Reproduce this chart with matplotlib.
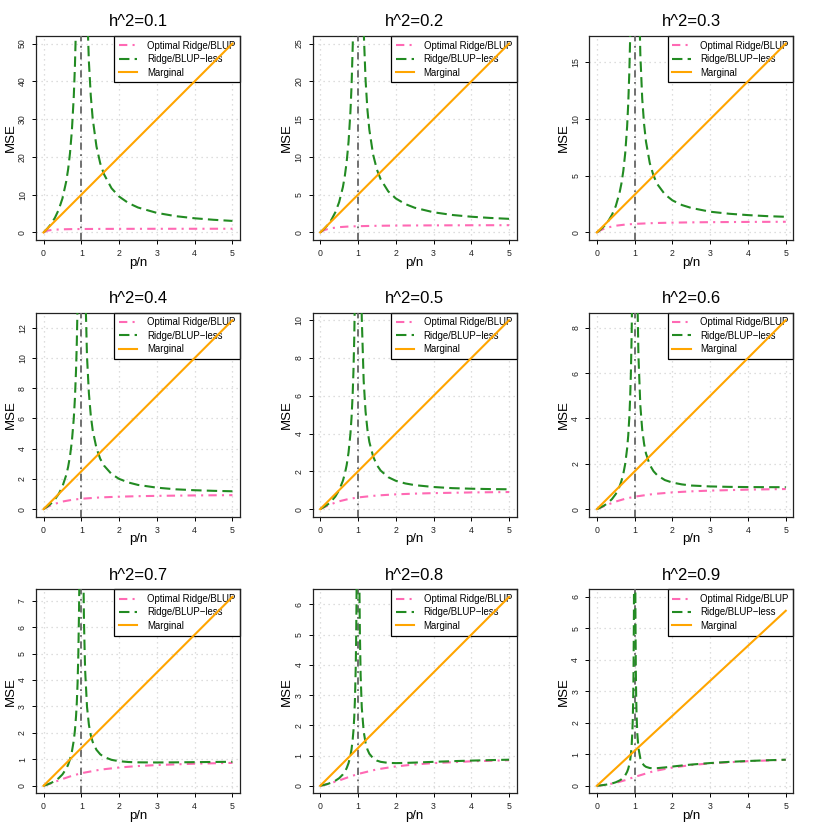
import matplotlib
matplotlib.use("Agg")
import matplotlib.pyplot as plt

plt.rcParams['font.family'] = ['Liberation Sans', 'DejaVu Sans']

# heritability per panel
h2_values = [0.1, 0.2, 0.3, 0.4, 0.5, 0.6, 0.7, 0.8, 0.9]
ymax = [50, 25, 16.67, 12.5, 10, 8.33, 7.14, 6.25, 6.0]
ystep = [10, 5, 5, 2, 2, 2, 1, 1, 1]

# marginal: straight line from (0,0) to (5, end)
x_marg = [0, 5]
marginal_end = [50, 25, 16.67, 12.5, 10, 8.33, 7.14, 6.25, 5.56]

# optimal ridge/BLUP
x_opt = [0, 0.1, 0.25, 0.5, 0.75, 1, 1.5, 2, 2.5, 3, 4, 5]
ridge_opt = [
    [0, 0.487, 0.708, 0.831, 0.881, 0.908, 0.937, 0.952, 0.961, 0.968, 0.976, 0.980],
    [0, 0.301, 0.531, 0.702, 0.782, 0.828, 0.880, 0.908, 0.925, 0.937, 0.952, 0.961],
    [0, 0.202, 0.407, 0.594, 0.694, 0.755, 0.826, 0.865, 0.890, 0.907, 0.929, 0.942],
    [0, 0.141, 0.312, 0.500, 0.613, 0.686, 0.773, 0.823, 0.855, 0.877, 0.906, 0.924],
    [0, 0.099, 0.236, 0.414, 0.535, 0.618, 0.721, 0.781, 0.820, 0.847, 0.883, 0.905],
    [0, 0.068, 0.174, 0.333, 0.457, 0.549, 0.667, 0.737, 0.784, 0.816, 0.859, 0.886],
    [0, 0.045, 0.121, 0.255, 0.376, 0.475, 0.609, 0.691, 0.746, 0.784, 0.835, 0.866],
    [0, 0.027, 0.075, 0.175, 0.287, 0.390, 0.543, 0.640, 0.705, 0.750, 0.809, 0.846],
    [0, 0.012, 0.035, 0.092, 0.178, 0.282, 0.462, 0.580, 0.658, 0.712, 0.781, 0.824],
]

# ridge/BLUP-less, below p/n = 1
x_less_left = [0, 0.1, 0.2, 0.3, 0.4, 0.5, 0.6, 0.65, 0.7, 0.75, 0.8, 0.83, 0.86,
               0.88, 0.9, 0.92, 0.94, 0.95, 0.96, 0.97, 0.98, 0.985, 0.99]
less_left = [
    [0, 1, 2.25, 3.86, 6, 9, 13.5, 16.7, 21, 27, 36, 43.9, 55.3, 66, 81, 103.5, 141, 171, 216, 291, 441, 591, 891],
    [0, 0.444, 1, 1.71, 2.67, 4, 6, 7.43, 9.33, 12, 16, 19.5, 24.6, 29.3, 36, 46, 62.7, 76, 96, 129, 196, 263, 396],
    [0, 0.259, 0.583, 1, 1.56, 2.33, 3.5, 4.33, 5.44, 7, 9.33, 11.4, 14.3, 17.1, 21, 26.8, 36.6, 44.3, 56, 75.4, 114, 153, 231],
    [0, 0.167, 0.375, 0.643, 1, 1.5, 2.25, 2.79, 3.5, 4.5, 6, 7.32, 9.21, 11, 13.5, 17.3, 23.5, 28.5, 36, 48.5, 73.5, 98.5, 149],
    [0, 0.111, 0.25, 0.429, 0.667, 1, 1.5, 1.86, 2.33, 3, 4, 4.88, 6.14, 7.33, 9, 11.5, 15.7, 19, 24, 32.3, 49, 65.7, 99],
    [0, 0.0741, 0.167, 0.286, 0.444, 0.667, 1, 1.24, 1.56, 2, 2.67, 3.25, 4.1, 4.89, 6, 7.67, 10.4, 12.7, 16, 21.6, 32.7, 43.8, 66],
    [0, 0.0476, 0.107, 0.184, 0.286, 0.429, 0.643, 0.796, 1, 1.29, 1.71, 2.09, 2.63, 3.14, 3.86, 4.93, 6.71, 8.14, 10.3, 13.9, 21, 28.1, 42.4],
    [0, 0.0278, 0.0625, 0.107, 0.167, 0.25, 0.375, 0.464, 0.583, 0.75, 1, 1.22, 1.54, 1.83, 2.25, 2.88, 3.92, 4.75, 6, 8.08, 12.3, 16.4, 24.8],
    [0, 0.0123, 0.0278, 0.0476, 0.0741, 0.111, 0.167, 0.206, 0.259, 0.333, 0.444, 0.542, 0.683, 0.815, 1, 1.28, 1.74, 2.11, 2.67, 3.59, 5.44, 7.3, 11],
]

# ridge/BLUP-less, above p/n = 1
x_less_right = [1.01, 1.015, 1.02, 1.03, 1.04, 1.05, 1.07, 1.1, 1.15, 1.2, 1.25, 1.3,
                1.4, 1.5, 1.6, 1.8, 2, 2.25, 2.5, 3, 3.5, 4, 4.5, 5]
less_right = [
    [900, 600, 450, 300, 225, 180, 128.6, 90.1, 60.1, 45.2, 36.2, 30.2, 22.8, 18.3, 15.4, 11.69, 9.5, 7.76, 6.6, 5.17, 4.31, 3.75, 3.35, 3.05],
    [400, 267, 200, 133, 100, 80, 57.2, 40.1, 26.8, 20.2, 16.2, 13.6, 10.3, 8.33, 7.04, 5.44, 4.5, 3.76, 3.27, 2.67, 2.31, 2.08, 1.92, 1.8],
    [233, 156, 117, 77.8, 58.4, 46.7, 33.4, 23.4, 15.7, 11.8, 9.53, 8.01, 6.12, 5, 4.26, 3.36, 2.83, 2.42, 2.16, 1.83, 1.65, 1.53, 1.44, 1.38],
    [150, 100, 75, 50, 37.5, 30, 21.5, 15.1, 10.1, 7.67, 6.2, 5.23, 4.04, 3.33, 2.88, 2.32, 2, 1.76, 1.6, 1.42, 1.31, 1.25, 1.21, 1.18],
    [100, 66.7, 50, 33.4, 25, 20, 14.4, 10.1, 6.8, 5.17, 4.2, 3.56, 2.79, 2.33, 2.04, 1.69, 1.5, 1.36, 1.27, 1.17, 1.11, 1.08, 1.06, 1.05],
    [66.7, 44.5, 33.4, 22.3, 16.7, 13.4, 9.59, 6.76, 4.57, 3.5, 2.87, 2.45, 1.95, 1.67, 1.49, 1.28, 1.17, 1.09, 1.04, 1, 0.981, 0.972, 0.968, 0.967],
    [42.9, 28.6, 21.4, 14.3, 10.8, 8.62, 6.19, 4.38, 2.99, 2.31, 1.91, 1.66, 1.36, 1.19, 1.09, 0.98, 0.929, 0.898, 0.886, 0.881, 0.886, 0.893, 0.9, 0.907],
    [25, 16.7, 12.5, 8.36, 6.29, 5.05, 3.64, 2.59, 1.8, 1.42, 1.2, 1.06, 0.911, 0.833, 0.792, 0.757, 0.75, 0.756, 0.767, 0.792, 0.814, 0.833, 0.849, 0.863],
    [11.1, 7.42, 5.58, 3.73, 2.82, 2.27, 1.65, 1.2, 0.871, 0.722, 0.644, 0.601, 0.564, 0.556, 0.56, 0.583, 0.611, 0.644, 0.674, 0.722, 0.759, 0.787, 0.81, 0.828],
]

labels = ["Optimal Ridge/BLUP", "Ridge/BLUP\u2212less", "Marginal"]

W = 830.0
cell = W / 3
fig = plt.figure(figsize=(8.3, 8.3), dpi=100)

for i, h2 in enumerate(h2_values):
    r, c = divmod(i, 3)
    left = (c * cell + 36) / W
    bottom = (W - (r * cell + 240)) / W
    ax = fig.add_axes([left, bottom, 204 / W, 204 / W])

    M = ymax[i]
    ax.set_xlim(-0.2, 5.2)
    ax.set_ylim(-0.04 * M, 1.04 * M)
    yt = [k * ystep[i] for k in range(int(M / ystep[i] + 1e-9) + 1)]
    ax.set_xticks([0, 1, 2, 3, 4, 5])
    ax.set_yticks(yt)
    ax.set_axisbelow(True)
    ax.grid(True, color="#d3d3d3", linestyle=(0, (1, 3)), linewidth=0.9)

    ax.axvline(1, color="#666666", lw=1.3, dashes=(4, 2.5, 1, 2.5), zorder=3)
    ax.plot(x_opt, ridge_opt[i], color="#FF69B4", lw=1.5,
            dashes=(4, 2.5, 1, 2.5), zorder=4, label=labels[0])
    ax.plot(x_less_left, less_left[i], color="#228B22", lw=1.5,
            dashes=(5, 2.5), zorder=4, label=labels[1])
    ax.plot(x_less_right, less_right[i], color="#228B22", lw=1.5,
            dashes=(5, 2.5), zorder=4)
    ax.plot(x_marg, [0, marginal_end[i]], color="#FFA500", lw=1.5,
            zorder=5, label=labels[2])

    leg = ax.legend(loc="upper right", borderaxespad=0, fontsize=6.9,
                    fancybox=False, framealpha=1, edgecolor="black",
                    handlelength=1.9, handletextpad=1.0, labelspacing=0.35,
                    borderpad=0.5)
    leg.get_frame().set_linewidth(0.9)
    leg.set_zorder(2)

    ax.set_title("h^2=%.1f" % h2, fontsize=12, pad=7)
    ax.set_xlabel("p/n", fontsize=9.5, labelpad=-1)
    ax.set_ylabel("MSE", fontsize=9.5, labelpad=1)
    ax.tick_params(axis="both", labelsize=6.3, length=3, width=0.7,
                   pad=3.5, direction="out", labelcolor="#222222")
    ax.tick_params(axis="y", labelrotation=90)
    for lab in ax.get_yticklabels():
        lab.set_verticalalignment("center")
    for s in ax.spines.values():
        s.set_linewidth(0.9)
        s.set_color("#222222")

fig.savefig("out.png", dpi=100)
